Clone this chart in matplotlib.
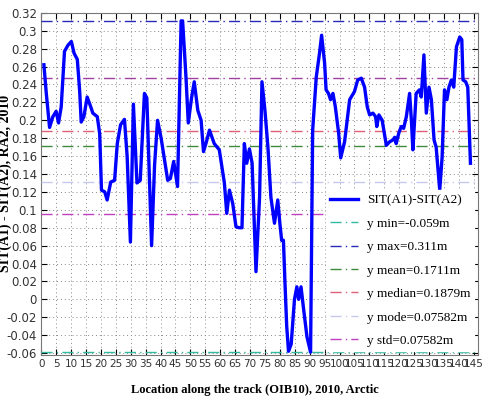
import numpy as np
import matplotlib
matplotlib.use("Agg")
import matplotlib.pyplot as plt

# location index along the track and SIT difference (m)
loc = [0.9, 1.7, 2.8, 3.9, 5.0, 5.8, 6.7, 7.8, 9.0, 10.1, 11.0, 12.1, 12.9, 13.4,
       14.3, 15.4, 16.6, 17.3, 18.8, 19.6, 20.2, 21.3, 22.1, 23.3, 24.6, 25.5,
       26.6, 27.9, 28.8, 29.9, 30.9, 32.1, 33.2, 34.6, 35.4, 37.0, 38.0, 39.0,
       40.2, 42.4, 43.3, 44.4, 45.7, 46.9, 47.4, 48.5, 49.3, 50.4, 51.3, 52.5,
       53.6, 54.4, 55.3, 56.4, 58.0, 59.7, 61.4, 62.2, 63.1, 64.2, 65.3, 66.4,
       67.3, 68.1, 68.9, 69.8, 70.7, 72.0, 73.2, 74.0, 75.0, 76.0, 77.0, 78.2,
       79.3, 80.0, 80.6, 81.2, 81.7, 82.3, 82.9, 83.8, 84.9, 85.7, 86.3, 87.1,
       88.0, 89.1, 90.3, 91.0, 92.2, 93.3, 94.0, 95.0, 95.5, 96.3, 97.0, 97.8,
       98.6, 99.7, 100.4, 101.7, 103.4, 105.0, 106.1, 107.3, 108.4, 109.3,
       110.1, 111.2, 112.1, 112.5, 113.2, 114.3, 115.7, 116.8, 117.9, 118.5,
       119.0, 119.9, 120.7, 121.5, 122.4, 123.5, 124.1, 124.6, 125.7, 126.8,
       127.4, 128.3, 129.1, 130.0, 130.8, 131.7, 132.4, 133.6, 134.4, 135.2,
       136.0, 136.7, 137.5, 138.3, 139.2, 140.3, 141.0, 141.4, 142.3, 143.0,
       143.9]
sit = [0.262, 0.230, 0.192, 0.204, 0.210, 0.197, 0.215, 0.277, 0.284, 0.288,
       0.275, 0.268, 0.232, 0.198, 0.204, 0.226, 0.215, 0.208, 0.204, 0.185,
       0.122, 0.120, 0.111, 0.131, 0.133, 0.174, 0.195, 0.201, 0.160, 0.064,
       0.218, 0.130, 0.133, 0.230, 0.225, 0.060, 0.150, 0.200, 0.180, 0.133,
       0.135, 0.154, 0.126, 0.311, 0.311, 0.250, 0.197, 0.225, 0.243, 0.211,
       0.200, 0.165, 0.175, 0.189, 0.174, 0.167, 0.130, 0.096, 0.122, 0.107,
       0.081, 0.080, 0.080, 0.174, 0.152, 0.168, 0.152, 0.031, 0.114, 0.243,
       0.211, 0.170, 0.114, 0.085, 0.111, 0.085, 0.066, 0.066, 0.020, -0.030,
       -0.058, -0.050, 0.000, 0.014, 0.000, 0.014, -0.012, -0.042, -0.059,
       0.189, 0.248, 0.275, 0.295, 0.264, 0.234, 0.230, 0.223, 0.230, 0.215,
       0.186, 0.158, 0.176, 0.223, 0.232, 0.245, 0.247, 0.237, 0.215, 0.206,
       0.208, 0.204, 0.193, 0.206, 0.200, 0.172, 0.176, 0.178, 0.181, 0.174,
       0.186, 0.193, 0.191, 0.204, 0.230, 0.200, 0.167, 0.230, 0.234, 0.226,
       0.273, 0.208, 0.237, 0.223, 0.178, 0.170, 0.122, 0.159, 0.234, 0.223,
       0.237, 0.245, 0.237, 0.282, 0.293, 0.290, 0.245, 0.243, 0.237, 0.152]

# reference lines (level drawn, legend text, colour)
ref_vals = [-0.059, 0.311, 0.1711, 0.1879, 0.131, 0.0953]
ref_labels = ["y min=-0.059m", "y max=0.311m", "y mean=0.1711m",
              "y median=0.1879m", "y mode=0.07582m", "y std=0.07582m"]
ref_colors = ["#33bba0", "#2a2ab8", "#3f8a3f", "#e0607a", "#c8c8ee", "#c040c0"]
std_upper = 0.2469

xticks = np.arange(0, 150, 5)
yticks = np.arange(-0.06, 0.321, 0.02)

fig = plt.figure(figsize=(4.85, 4.01), dpi=100)
ax = fig.add_axes([0.085, 0.115, 0.901, 0.853])

ax.plot(loc, sit, color="#0000ff", lw=2.4, label="SIT(A1)-SIT(A2)", zorder=5)
for v, lab, c in zip(ref_vals, ref_labels, ref_colors):
    ax.axhline(v, color=c, lw=1.0, ls=(0, (8, 3, 1, 3)), label=lab, zorder=3)
# std band upper line (no legend entry)
ax.axhline(std_upper, color="#a040a0", lw=1.0, ls=(0, (8, 3, 1, 3)), zorder=3)

ax.set_xlim(0, 146.5)
ax.set_ylim(-0.062, 0.32)
ax.set_xticks(xticks)
ax.set_yticks(yticks)
ax.set_yticklabels(["%g" % round(t, 2) for t in yticks])
ax.grid(True, color="#888888", ls=(0, (1, 3)), lw=0.7)
ax.tick_params(direction="in", top=True, right=True, length=4, width=0.8,
               labelsize=8.5, pad=3)
ax.tick_params(axis="x", labelsize=7.5)
for lab in ax.get_xticklabels() + ax.get_yticklabels():
    lab.set_family(["Liberation Sans Narrow", "DejaVu Sans"])
    lab.set_color("#333333")
for s in ax.spines.values():
    s.set_color("#777777")

ax.set_xlabel("Location along the track (OIB10), 2010, Arctic",
              family="Liberation Serif", fontweight="bold", fontsize=9)
ax.set_ylabel("SIT(A1) - SIT(A2), RA2, 2010",
              family="Liberation Serif", fontweight="bold", fontsize=10)
ax.yaxis.set_label_coords(-0.066, 0.5)
ax.xaxis.set_label_coords(0.49, -0.085)

leg = ax.legend(loc="lower right", prop={"family": "Liberation Serif", "size": 9.5},
                frameon=True, fancybox=False, framealpha=1, edgecolor="white",
                handlelength=2.1, handletextpad=0.7, labelspacing=0.85,
                borderaxespad=0.3, borderpad=0.3)
leg.set_zorder(10)

fig.savefig("out.png", dpi=100)
